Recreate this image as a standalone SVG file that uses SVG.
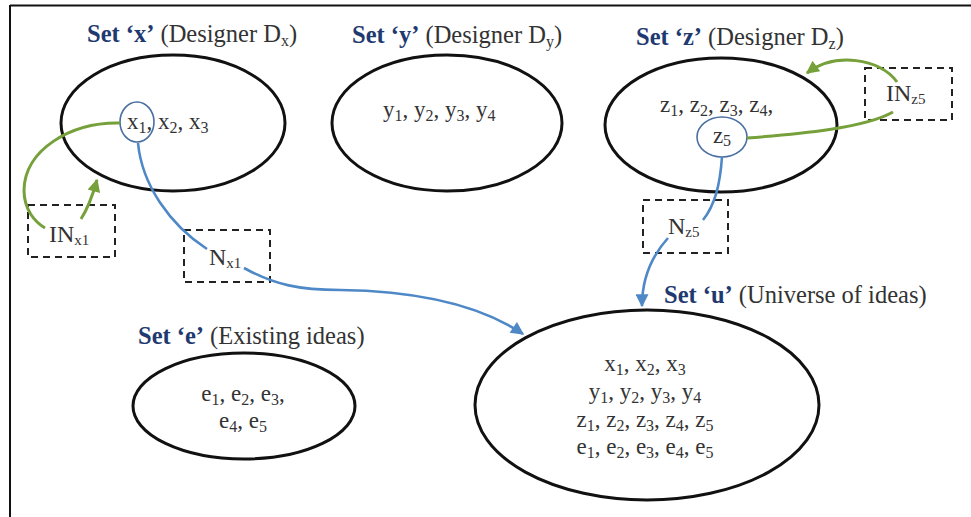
<svg xmlns="http://www.w3.org/2000/svg" width="971" height="517" viewBox="0 0 971 517">
<defs>
<style>
.ell{fill:none;stroke:#111;stroke-width:3}
.sm{fill:none;stroke:#4a6fa0;stroke-width:1.6}
.box{fill:none;stroke:#222;stroke-width:2;stroke-dasharray:7,5}
.t{font-family:"Liberation Serif","Times New Roman",serif;fill:#333}
.ttl{font-size:24.5px}
.body{font-size:23px}
.b{font-weight:bold;fill:#1f3a70}
.s{font-size:16px}
.blue{fill:none;stroke:#4f88c6;stroke-width:2.6}
.green{fill:none;stroke:#76a03a;stroke-width:3}
</style>
<marker id="ab" viewBox="0 0 10 10" refX="9" refY="5" markerWidth="15" markerHeight="13" markerUnits="userSpaceOnUse" orient="auto"><path d="M0,0 L10,5 L0,10 z" fill="#4f88c6"/></marker>
<marker id="ag" viewBox="0 0 10 10" refX="9" refY="5" markerWidth="15" markerHeight="13" markerUnits="userSpaceOnUse" orient="auto"><path d="M0,0 L10,5 L0,10 z" fill="#76a03a"/></marker>
</defs>
<rect width="971" height="517" fill="#fff"/>
<path d="M10,5.5 H971 M10,5 V517" stroke="#111" stroke-width="2" fill="none"/>

<g id="set-x">
<text class="t ttl" x="87" y="42"><tspan class="b">Set ‘x’</tspan> (Designer D<tspan class="s" dy="4">x</tspan><tspan dy="-4">)</tspan></text>
<ellipse class="ell" cx="173" cy="123" rx="112" ry="68"/>
<ellipse class="sm" cx="137" cy="122" rx="17" ry="20"/>
<text class="t body" x="127" y="129">x<tspan class="s" dy="4">1</tspan><tspan dy="-4">, x</tspan><tspan class="s" dy="4">2</tspan><tspan dy="-4">, x</tspan><tspan class="s" dy="4">3</tspan></text>
</g>

<g id="set-y">
<text class="t ttl" x="352" y="43"><tspan class="b">Set ‘y’</tspan> (Designer D<tspan class="s" dy="4">y</tspan><tspan dy="-4">)</tspan></text>
<ellipse class="ell" cx="447" cy="123" rx="115" ry="68"/>
<text class="t body" x="383" y="117">y<tspan class="s" dy="4">1</tspan><tspan dy="-4">, y</tspan><tspan class="s" dy="4">2</tspan><tspan dy="-4">, y</tspan><tspan class="s" dy="4">3</tspan><tspan dy="-4">, y</tspan><tspan class="s" dy="4">4</tspan></text>
</g>

<g id="set-z">
<text class="t ttl" x="636" y="45"><tspan class="b">Set ‘z’</tspan> (Designer D<tspan class="s" dy="4">z</tspan><tspan dy="-4">)</tspan></text>
<ellipse class="ell" cx="721" cy="125" rx="116" ry="67"/>
<text class="t body" x="660" y="112">z<tspan class="s" dy="4">1</tspan><tspan dy="-4">, z</tspan><tspan class="s" dy="4">2</tspan><tspan dy="-4">, z</tspan><tspan class="s" dy="4">3</tspan><tspan dy="-4">, z</tspan><tspan class="s" dy="4">4</tspan><tspan dy="-4">,</tspan></text>
<ellipse class="sm" cx="722" cy="137" rx="25" ry="20"/>
<text class="t body" x="722" y="143" text-anchor="middle">z<tspan class="s" dy="3">5</tspan></text>
</g>

<g id="in-x1">
<rect class="box" x="28" y="205" width="87" height="52"/>
<text class="t" x="49" y="242" font-size="24">IN<tspan font-size="15" dy="3">x1</tspan></text>
</g>

<g id="n-x1">
<rect class="box" x="184" y="230" width="86" height="52"/>
<text class="t" x="209" y="265" font-size="24">N<tspan font-size="15" dy="3">x1</tspan></text>
</g>

<g id="in-z5">
<rect class="box" x="865" y="68" width="87" height="52"/>
<text class="t" x="886" y="101" font-size="24">IN<tspan font-size="15" dy="3">z5</tspan></text>
</g>

<g id="n-z5">
<rect class="box" x="643" y="200" width="85" height="53"/>
<text class="t" x="668" y="234" font-size="24">N<tspan font-size="15" dy="3">z5</tspan></text>
</g>

<g id="set-e">
<text class="t ttl" x="138" y="344"><tspan class="b">Set ‘e’</tspan> (Existing ideas)</text>
<ellipse class="ell" cx="244" cy="406" rx="111" ry="53"/>
<text class="t body" x="243" y="401" text-anchor="middle">e<tspan class="s" dy="4">1</tspan><tspan dy="-4">, e</tspan><tspan class="s" dy="4">2</tspan><tspan dy="-4">, e</tspan><tspan class="s" dy="4">3</tspan><tspan dy="-4">,</tspan></text>
<text class="t body" x="243" y="428" text-anchor="middle">e<tspan class="s" dy="4">4</tspan><tspan dy="-4">, e</tspan><tspan class="s" dy="4">5</tspan></text>
</g>

<g id="set-u">
<text class="t ttl" x="664" y="303"><tspan class="b">Set ‘u’</tspan> (Universe of ideas)</text>
<ellipse class="ell" cx="647" cy="405" rx="172" ry="95"/>
<g class="t body" text-anchor="middle">
<text x="645" y="371">x<tspan class="s" dy="4">1</tspan><tspan dy="-4">, x</tspan><tspan class="s" dy="4">2</tspan><tspan dy="-4">, x</tspan><tspan class="s" dy="4">3</tspan></text>
<text x="645" y="399">y<tspan class="s" dy="4">1</tspan><tspan dy="-4">, y</tspan><tspan class="s" dy="4">2</tspan><tspan dy="-4">, y</tspan><tspan class="s" dy="4">3</tspan><tspan dy="-4">, y</tspan><tspan class="s" dy="4">4</tspan></text>
<text x="645" y="427">z<tspan class="s" dy="4">1</tspan><tspan dy="-4">, z</tspan><tspan class="s" dy="4">2</tspan><tspan dy="-4">, z</tspan><tspan class="s" dy="4">3</tspan><tspan dy="-4">, z</tspan><tspan class="s" dy="4">4</tspan><tspan dy="-4">, z</tspan><tspan class="s" dy="4">5</tspan></text>
<text x="645" y="454">e<tspan class="s" dy="4">1</tspan><tspan dy="-4">, e</tspan><tspan class="s" dy="4">2</tspan><tspan dy="-4">, e</tspan><tspan class="s" dy="4">3</tspan><tspan dy="-4">, e</tspan><tspan class="s" dy="4">4</tspan><tspan dy="-4">, e</tspan><tspan class="s" dy="4">5</tspan></text>
</g>
</g>

<g id="connectors">
<path class="green" d="M120,123 C70,122 25,150 24,190 C24,210 35,222 45,228"/>
<path class="green" d="M81,219 Q90,205 97,180" marker-end="url(#ag)"/>
<path class="blue" d="M138,143 C142,185 170,225 207,249"/>
<path class="blue" d="M244,268 C275,285 300,290 340,290 C420,291 480,305 523,334" marker-end="url(#ab)"/>
<path class="blue" d="M722,157 C720,185 715,205 703,220"/>
<path class="blue" d="M668,238 C650,258 642,280 642,306" marker-end="url(#ab)"/>
<path class="green" d="M747,138 C800,134 865,128 893,112"/>
<path class="green" d="M897,82 C880,58 835,52 807,73" marker-end="url(#ag)"/>
</g>
</svg>
